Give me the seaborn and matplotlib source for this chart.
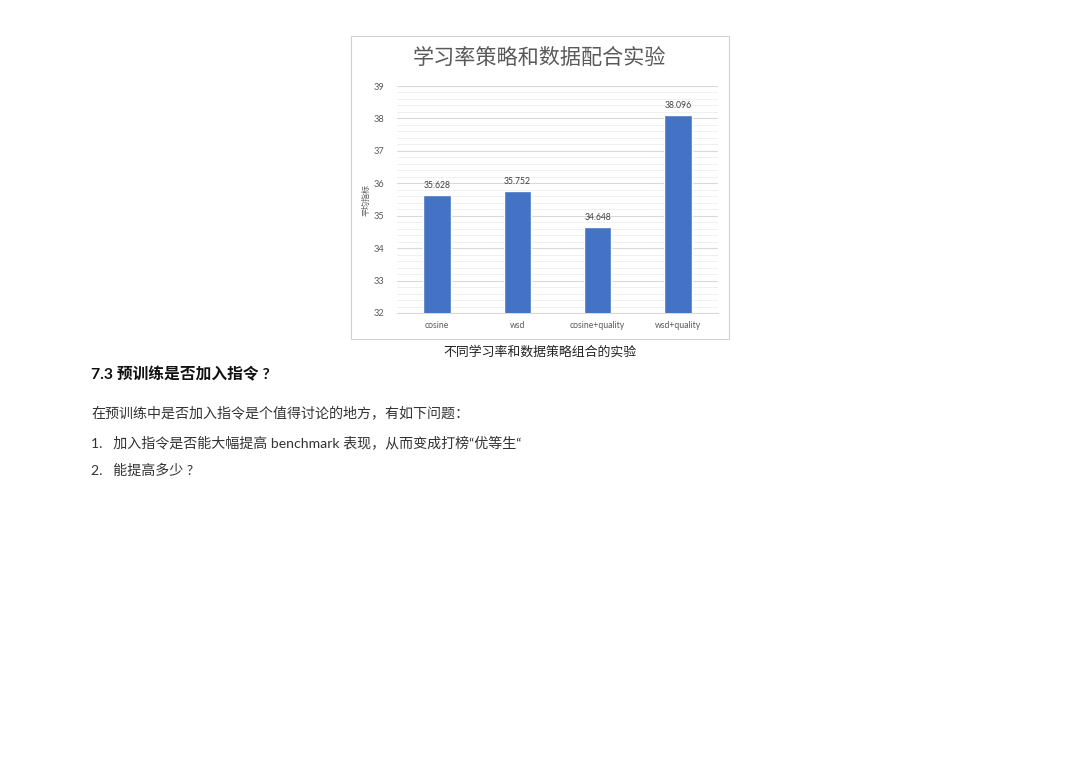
import matplotlib
matplotlib.use("Agg")
import matplotlib.pyplot as plt
import matplotlib.patches as patches
from matplotlib.ticker import MultipleLocator
import pandas as pd
import seaborn as sns

# data
categories = ["cosine", "wsd", "cosine+quality", "wsd+quality"]
scores = [35.628, 35.752, 34.648, 38.096]
y_ticks = [32, 33, 34, 35, 36, 37, 38, 39]

chart_title = "学习率策略和数据配合实验"
y_label = "平均指标"
caption = "不同学习率和数据策略组合的实验"
heading = "7.3 预训练是否加入指令 ?"
body_lines = [
    "在预训练中是否加入指令是个值得讨论的地方，有如下问题：",
    "1.   加入指令是否能大幅提高 benchmark 表现，从而变成打榜“优等生“",
    "2.   能提高多少 ?",
]

sns.set_theme(style="white")
plt.rcParams["font.family"] = ["Lato", "Noto Sans CJK SC", "DejaVu Sans"]

W, H = 1080, 763
fig = plt.figure(figsize=(W / 100, H / 100), dpi=100)
fig.patch.set_facecolor("white")

def fx(px):
    return px / W

def fy(py):
    return 1 - py / H

# chart frame
fig.patches.append(patches.Rectangle((fx(351), fy(339)), fx(729) - fx(351), fy(36) - fy(339),
                                     transform=fig.transFigure, fill=False,
                                     edgecolor="#d0d0d0", linewidth=0.8))

ax = fig.add_axes([fx(397), fy(313), fx(718) - fx(397), fy(86) - fy(313)])
df = pd.DataFrame({"cat": categories, "score": scores})
sns.barplot(data=df, x="cat", y="score", color="#4472C4", width=0.34,
            saturation=1, ax=ax, zorder=3)

ax.set_ylim(32, 39)
ax.set_yticks(y_ticks)
ax.yaxis.set_minor_locator(MultipleLocator(0.2))
ax.grid(which="major", axis="y", color="#d9d9d9", linewidth=0.8, zorder=0)
ax.grid(which="minor", axis="y", color="#eeeeee", linewidth=0.6, zorder=0)
ax.set_axisbelow(True)
for s in ["top", "right", "left"]:
    ax.spines[s].set_visible(False)
ax.spines["bottom"].set_color("#d9d9d9")
ax.spines["bottom"].set_linewidth(0.8)
ax.tick_params(axis="both", which="both", length=0, colors="#595959")
ax.tick_params(axis="y", pad=9, labelsize=6.6)
ax.tick_params(axis="x", pad=6, labelsize=6.2)
ax.set_xlabel("")
ax.set_ylabel(y_label, fontsize=5.8, color="#595959", labelpad=3)
ax.set_facecolor("white")

ax.bar_label(ax.containers[0], fmt="%.3f", fontsize=6.2, color="#404040", padding=4)

fig.text(fx(540), fy(58), chart_title, ha="center", va="center", fontsize=15.2,
         color="#595959")

fig.text(fx(540), fy(351), caption, ha="center", va="center", fontsize=9.3, color="#222222")
fig.text(fx(91), fy(375), heading, ha="left", va="center", fontsize=11.3,
         fontweight="bold", color="#111111")
for line, ypx in zip(body_lines, [413, 442, 470]):
    fig.text(fx(91), fy(ypx), line, ha="left", va="center", fontsize=10.1, color="#333333")

fig.savefig("out.png", dpi=100, facecolor="white")
